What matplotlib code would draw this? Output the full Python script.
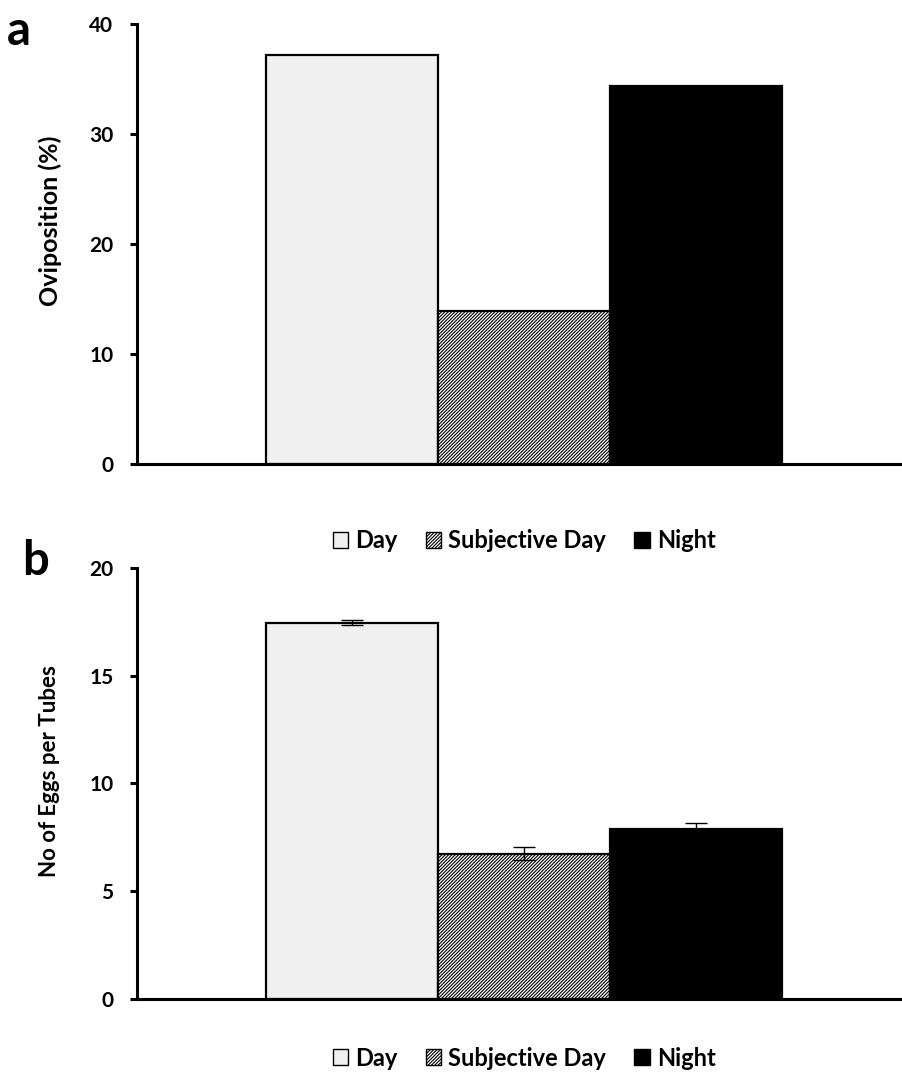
import numpy as np
import matplotlib
matplotlib.use("Agg")
import matplotlib.pyplot as plt
from matplotlib.patches import Patch

plt.rcParams['font.family'] = ['Lato', 'DejaVu Sans']
plt.rcParams['font.weight'] = 'bold'
plt.rcParams['hatch.linewidth'] = 0.8

# data
categories = ["Day", "Subjective Day", "Night"]
oviposition = [37.2, 13.9, 34.4]
eggs_per_tube = [17.45, 6.75, 7.9]
eggs_err = [0.12, 0.3, 0.25]

face_colors = ["#f0f0f0", "white", "black"]
hatches = [None, "/" * 10, None]

fig = plt.figure(figsize=(9.02, 10.72), dpi=100)
ax_a = fig.add_axes([0.1519, 0.5672, 0.8481, 0.4104])
ax_b = fig.add_axes([0.1519, 0.0681, 0.8481, 0.4021])

x = np.arange(len(categories))


def draw_panel(ax, vals, ylim, yticks, ylabel, label_size, label_y, err=None):
    for i in range(len(categories)):
        ax.bar(x[i], vals[i], width=1.0, color=face_colors[i], hatch=hatches[i],
               edgecolor="black", linewidth=1.6, zorder=2)
    if err is not None:
        ax.errorbar(x, vals, yerr=err, fmt="none", ecolor="black",
                    elinewidth=1.0, capsize=8, capthick=1.0, zorder=3)
    ax.set_xlim(-1.25, 3.198)
    ax.set_ylim(*ylim)
    ax.set_yticks(yticks)
    ax.set_xticks([])
    ax.spines["top"].set_visible(False)
    ax.spines["right"].set_visible(False)
    ax.spines["left"].set_linewidth(2.2)
    ax.spines["bottom"].set_linewidth(2.2)
    ax.tick_params(axis="y", direction="out", length=5, width=2.2,
                   labelsize=15, pad=12)
    for lbl in ax.get_yticklabels():
        lbl.set_fontweight("bold")
    ax.set_ylabel(ylabel, fontsize=label_size, fontweight="bold", va="center")
    ax.yaxis.set_label_coords(-0.114, label_y)


draw_panel(ax_a, oviposition, (0, 40), [0, 10, 20, 30, 40], "Oviposition (%)",
           18, 0.552)
draw_panel(ax_b, eggs_per_tube, (0, 20), [0, 5, 10, 15, 20],
           "No of Eggs per Tubes", 16, 0.529, err=eggs_err)

handles = [Patch(facecolor=face_colors[i], edgecolor="black", hatch=hatches[i],
                 linewidth=1.0, label=categories[i]) for i in range(len(categories))]

for ypos in [1 - 541 / 1072, 1 - 1058 / 1072]:
    fig.legend(handles=handles, loc="center", bbox_to_anchor=(0.581, ypos),
               ncol=3, frameon=False, handlelength=0.65,
               handleheight=0.65, handletextpad=0.3, columnspacing=1.2,
               prop={"weight": "bold", "size": 17})

fig.text(0.008, 0.992, "a", fontsize=34, fontweight="bold", va="top", ha="left")
fig.text(0.025, 0.497, "b", fontsize=34, fontweight="bold", va="top", ha="left")

fig.savefig("out.png", dpi=100)
